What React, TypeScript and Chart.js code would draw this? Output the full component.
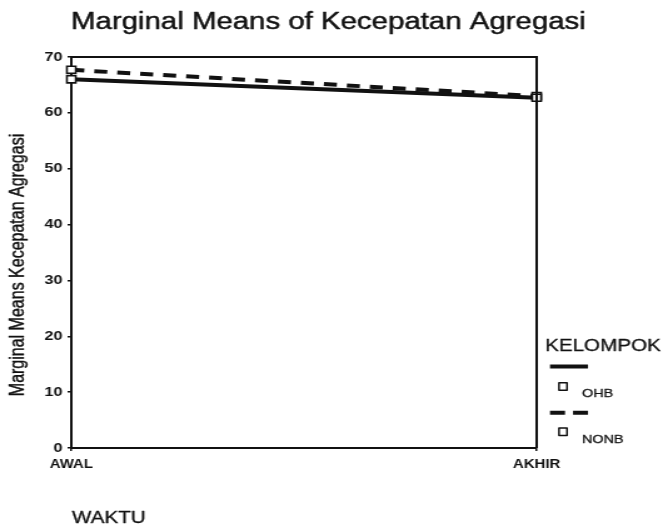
import React, { useEffect, useRef } from 'react';
import { Chart, registerables } from 'chart.js';

Chart.register(...registerables);

// ---- data ----
const categories = ['AWAL', 'AKHIR'];
const ohbValues = [66.0, 62.7];
const nonbValues = [67.7, 63.0];
const seriesNames = ['OHB', 'NONB'];
const yMin = 0;
const yMax = 70;
const yStep = 10;
const titleText = 'Marginal Means of Kecepatan Agregasi';
const yTitleText = 'Marginal Means Kecepatan Agregasi';
const xTitleText = 'WAKTU';
const legendTitleText = 'KELOMPOK';

// ---- layout ----
const CANVAS_W = 530; // internal width, stretched to 663 by CSS (scanned look)
const CANVAS_H = 528;
const SX = 663 / CANVAS_W;
const FONT = '"Liberation Sans", Arial, Helvetica, sans-serif';
const r = (x: number) => x / SX; // real px -> internal px

function heavyText(ctx: CanvasRenderingContext2D, text: string, x: number, y: number, w: number) {
  ctx.lineWidth = w;
  ctx.lineJoin = 'round';
  ctx.strokeText(text, x, y);
  ctx.fillText(text, x, y);
}

const decorPlugin = {
  id: 'decor',
  afterDraw(chart: any) {
    const ctx: CanvasRenderingContext2D = chart.ctx;
    const ca = chart.chartArea;
    ctx.save();
    ctx.fillStyle = '#111';
    ctx.strokeStyle = '#111';

    // frame top + right
    ctx.lineWidth = 2;
    ctx.beginPath();
    ctx.moveTo(ca.left, ca.top);
    ctx.lineTo(ca.right, ca.top);
    ctx.lineTo(ca.right, ca.bottom);
    ctx.stroke();

    // title
    ctx.font = `23.5px ${FONT}`;
    ctx.textAlign = 'left';
    ctx.textBaseline = 'alphabetic';
    heavyText(ctx, titleText, r(71), 28.5, 0.45);

    // y title
    ctx.save();
    ctx.translate(r(18.3), 265);
    ctx.rotate(-Math.PI / 2);
    ctx.font = `16px ${FONT}`;
    ctx.textAlign = 'center';
    ctx.textBaseline = 'middle';
    heavyText(ctx, yTitleText, 0, 0, 0.4);
    ctx.restore();

    // x title
    ctx.font = `16.5px ${FONT}`;
    ctx.textAlign = 'left';
    ctx.textBaseline = 'alphabetic';
    heavyText(ctx, xTitleText, r(72), 522.5, 0.3);

    // legend
    ctx.font = `16.5px ${FONT}`;
    heavyText(ctx, legendTitleText, r(545), 350.7, 0.3);

    const lx0 = r(550);
    const lx1 = r(588);
    const rows = [
      { y: 366.5, dash: [] as number[], sq: 386.5, tb: 397.3, name: seriesNames[0] },
      { y: 412.7, dash: [12, 6.4], sq: 431.7, tb: 443.3, name: seriesNames[1] },
    ];
    rows.forEach((row) => {
      ctx.lineWidth = 4;
      ctx.setLineDash(row.dash);
      ctx.beginPath();
      ctx.moveTo(lx0, row.y);
      ctx.lineTo(lx1, row.y);
      ctx.stroke();
      ctx.setLineDash([]);
      ctx.lineWidth = 1.5;
      ctx.fillStyle = '#fff';
      ctx.fillRect(r(563) - 3.2, row.sq - 3.8, 6.4, 7.6);
      ctx.strokeRect(r(563) - 3.2, row.sq - 3.8, 6.4, 7.6);
      ctx.fillStyle = '#111';
      ctx.font = `11.5px ${FONT}`;
      heavyText(ctx, row.name, r(582), row.tb, 0.3);
    });
    ctx.restore();
  },
};

export default function App() {
  const ref = useRef<HTMLCanvasElement>(null);

  useEffect(() => {
    if (!ref.current) return;
    const chart = new Chart(ref.current, {
      type: 'line',
      data: {
        labels: categories,
        datasets: [
          {
            label: seriesNames[0],
            data: ohbValues,
            borderColor: '#111',
            borderWidth: 4,
            pointStyle: 'rect',
            pointRadius: 5,
            pointBorderWidth: 1.6,
            pointBorderColor: '#111',
            pointBackgroundColor: '#fff',
            clip: false as any,
            tension: 0,
          },
          {
            label: seriesNames[1],
            data: nonbValues,
            borderColor: '#111',
            borderWidth: 4,
            borderDash: [10.4, 8],
            pointStyle: 'rect',
            pointRadius: 5,
            pointBorderWidth: 1.6,
            pointBorderColor: '#111',
            pointBackgroundColor: '#fff',
            clip: false as any,
            tension: 0,
          },
        ],
      },
      options: {
        responsive: false,
        animation: false,
        devicePixelRatio: 1,
        events: [],
        layout: { padding: { left: 0, right: Math.round(CANVAS_W - r(537)), top: 57, bottom: 0 } },
        plugins: {
          legend: { display: false },
          title: { display: false },
          tooltip: { enabled: false },
        },
        scales: {
          x: {
            type: 'category',
            offset: false,
            afterFit: (scale: any) => {
              scale.height = CANVAS_H - 448;
            },
            grid: {
              drawOnChartArea: false,
              drawTicks: true,
              tickLength: 3,
              color: '#111',
              lineWidth: 1.5,
            },
            border: { display: true, color: '#111', width: 2 },
            ticks: {
              color: '#111',
              font: { family: FONT, size: 12, weight: 'bold' },
              padding: 6,
              maxRotation: 0,
              autoSkip: false,
            },
          },
          y: {
            min: yMin,
            max: yMax,
            afterFit: (scale: any) => {
              scale.width = Math.round(r(71.5));
            },
            grid: {
              drawOnChartArea: false,
              drawTicks: true,
              tickLength: 3,
              color: '#111',
              lineWidth: 1.5,
            },
            border: { display: true, color: '#111', width: 2 },
            ticks: {
              stepSize: yStep,
              color: '#111',
              font: { family: FONT, size: 13, weight: 'bold' },
              padding: 4,
            },
          },
        },
      },
      plugins: [decorPlugin],
    });
    return () => chart.destroy();
  }, []);

  return (
    <div style={{ position: 'fixed', left: 0, top: 0, width: 663, height: 528, background: '#fff' }}>
      <canvas
        ref={ref}
        width={CANVAS_W}
        height={CANVAS_H}
        style={{ width: '663px', height: '528px', display: 'block' }}
      />
    </div>
  );
}
